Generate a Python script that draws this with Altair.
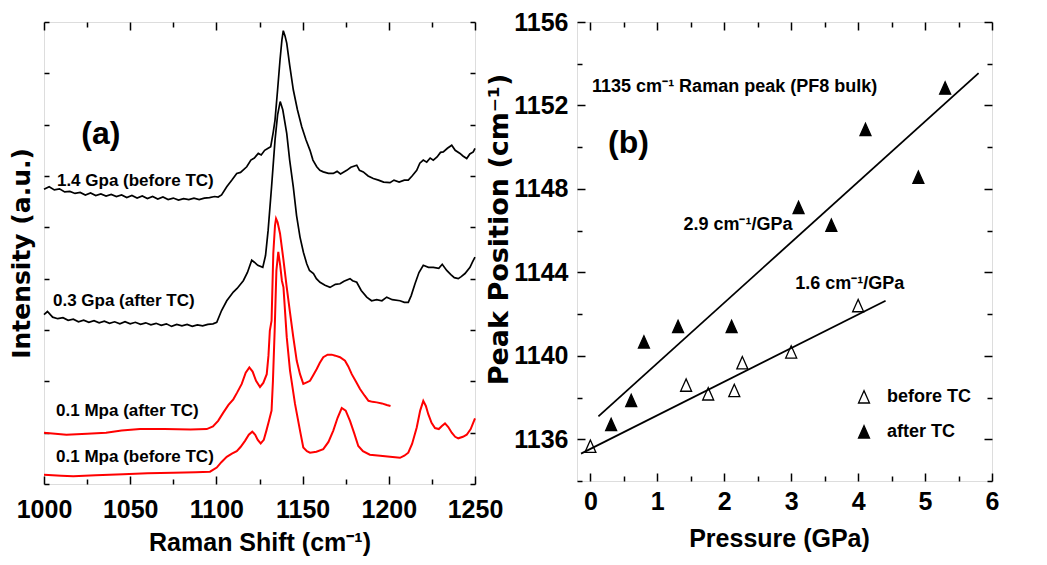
import altair as alt
import pandas as pd

# ---------------- Panel (a): Raman spectra (x = Raman shift, y = intensity a.u.) ----------------
UB = [(1000, 5.74), (1003, 5.79), (1006, 5.73), (1009, 5.75), (1012, 5.69), (1015, 5.70), (1018, 5.66),
      (1021, 5.68), (1024, 5.63), (1027, 5.67), (1030, 5.62), (1033, 5.65), (1036, 5.61), (1039, 5.64),
      (1042, 5.60), (1045, 5.63), (1048, 5.58), (1051, 5.62), (1054, 5.57), (1057, 5.61), (1060, 5.56),
      (1063, 5.60), (1066, 5.55), (1069, 5.59), (1072, 5.54), (1075, 5.57), (1078, 5.53), (1081, 5.56),
      (1084, 5.54), (1087, 5.57), (1090, 5.54), (1093, 5.57), (1096, 5.58), (1099, 5.60), (1101, 5.59),
      (1103, 5.63), (1106, 5.79), (1109, 5.92), (1111.8, 6.05), (1114, 6.07), (1117.6, 6.18), (1120, 6.31),
      (1122, 6.35), (1124.3, 6.44), (1126, 6.41), (1128, 6.50), (1130, 6.54), (1131.5, 6.57), (1133, 6.86),
      (1134, 7.09), (1135.5, 7.68), (1136.9, 8.26), (1138, 8.65), (1138.8, 8.83), (1139.8, 8.73),
      (1140.8, 8.59), (1142.5, 8.16), (1144.6, 7.68), (1147, 7.29), (1149.5, 6.96), (1152, 6.70),
      (1154.3, 6.50), (1156, 6.31), (1158.2, 6.18), (1160, 6.11), (1162, 6.08), (1165, 6.05), (1167.8, 6.05),
      (1170, 6.09), (1172, 6.04), (1175.6, 6.11), (1178, 6.17), (1181.4, 6.21), (1183, 6.11), (1185.2, 6.08),
      (1188, 6.00), (1191, 5.95), (1194, 5.92), (1197, 5.88), (1200.7, 5.87), (1203, 5.92), (1206, 5.88),
      (1209, 5.92), (1211.3, 5.92), (1213.5, 6.00), (1216.2, 6.11), (1218, 6.25), (1220, 6.31), (1222, 6.27),
      (1224, 6.35), (1225.8, 6.31), (1228, 6.37), (1230, 6.46), (1231.6, 6.47), (1234, 6.54), (1236.5, 6.60),
      (1238.5, 6.50), (1241.3, 6.44), (1243, 6.39), (1245.2, 6.34), (1247, 6.43), (1249, 6.47), (1250, 6.54)]

LB = [(1000, 3.30), (1002, 3.36), (1005, 3.25), (1008, 3.22), (1011, 3.24), (1014, 3.19), (1017, 3.21),
      (1020, 3.16), (1023, 3.19), (1026, 3.15), (1029, 3.18), (1032, 3.14), (1035, 3.17), (1038, 3.13),
      (1041, 3.16), (1044, 3.12), (1047, 3.16), (1050, 3.12), (1053, 3.15), (1056, 3.11), (1059, 3.14),
      (1062, 3.10), (1065, 3.13), (1068, 3.09), (1071, 3.12), (1074, 3.07), (1077, 3.11), (1080, 3.08),
      (1083, 3.11), (1086, 3.07), (1089, 3.10), (1092, 3.08), (1095, 3.11), (1098, 3.12), (1100.2, 3.15),
      (1103, 3.38), (1106, 3.57), (1109.8, 3.74), (1112, 3.81), (1115.6, 3.96), (1118, 4.12), (1120.5, 4.36),
      (1122, 4.32), (1124, 4.26), (1126.9, 4.22), (1128.5, 4.45), (1130, 4.94), (1132, 5.79), (1134, 6.70),
      (1135.5, 7.19), (1137, 7.45), (1138.5, 7.29), (1140.8, 6.83), (1142.5, 6.31), (1144.6, 5.79),
      (1146.5, 5.23), (1148.5, 4.81), (1150.5, 4.51), (1152.4, 4.29), (1154, 4.16), (1156.3, 4.10),
      (1158, 4.00), (1160.1, 3.93), (1163, 3.87), (1165.9, 3.83), (1169, 3.89), (1171.7, 3.90), (1174, 3.95),
      (1177.5, 4.00), (1179, 3.96), (1181.4, 3.93), (1184, 3.77), (1187.2, 3.64), (1190, 3.57), (1193, 3.59),
      (1196, 3.57), (1198.8, 3.64), (1202, 3.59), (1206.5, 3.57), (1209, 3.54), (1211.3, 3.54), (1213, 3.67),
      (1215.2, 3.90), (1217.5, 4.12), (1220, 4.26), (1223, 4.22), (1225.8, 4.22), (1229, 4.20), (1231, 4.28),
      (1233.6, 4.16), (1236, 4.08), (1238, 4.02), (1240.3, 4.00), (1242, 4.04), (1244.2, 4.10),
      (1247.1, 4.22), (1248.5, 4.32), (1250, 4.42)]

RA = [(1000, 1.00), (1013, 0.96), (1025, 0.98), (1036, 1.00), (1045, 1.04), (1055.7, 1.07), (1070, 1.07),
      (1085, 1.06), (1094.4, 1.07), (1098, 1.12), (1101, 1.23), (1104, 1.39), (1107, 1.54), (1109.8, 1.65),
      (1112, 1.78), (1114.7, 1.95), (1117, 2.17), (1119.1, 2.27), (1121, 2.19), (1123, 2.01), (1125.3, 1.89),
      (1127.2, 1.97), (1129.2, 2.14), (1130.2, 2.50), (1131, 2.99), (1132, 3.18), (1133, 4.49), (1134, 5.04),
      (1134.6, 5.17), (1135.5, 5.10), (1136.9, 4.88), (1138.8, 4.39), (1140.8, 3.83), (1142.7, 3.34),
      (1144.6, 2.86), (1146.6, 2.40), (1148.5, 2.14), (1150.4, 1.95), (1152.4, 1.98), (1154.3, 2.01),
      (1156, 2.11), (1158.2, 2.24), (1160, 2.36), (1162, 2.47), (1164.5, 2.52), (1166.9, 2.52), (1169, 2.50),
      (1171.7, 2.47), (1174.6, 2.40), (1176.5, 2.29), (1178.5, 2.14), (1181, 1.99), (1183.3, 1.85),
      (1186, 1.72), (1188.2, 1.62), (1190.5, 1.60), (1193, 1.59), (1196, 1.57), (1198.8, 1.54), (1201, 1.52)]

RB = [(1000, 0.18), (1010, 0.16), (1017, 0.15), (1030, 0.17), (1046, 0.19), (1060, 0.21), (1075, 0.22),
      (1088, 0.23), (1096.3, 0.24), (1100.2, 0.32), (1103, 0.43), (1106, 0.53), (1109, 0.59), (1111.8, 0.64),
      (1114, 0.72), (1116.6, 0.84), (1118.8, 0.96), (1120.8, 1.02), (1122.5, 0.96), (1124, 0.86),
      (1125.7, 0.79), (1127.5, 0.86), (1129, 1.04), (1130.5, 1.23), (1132, 1.43), (1132.8, 2.01),
      (1133.8, 2.99), (1134.8, 4.16), (1135.9, 4.52), (1137, 4.26), (1138, 3.96), (1138.9, 3.83),
      (1140.8, 2.86), (1142.7, 2.21), (1145.6, 1.56), (1148.5, 1.04), (1150.4, 0.71), (1152.5, 0.64),
      (1154.3, 0.61), (1158, 0.63), (1162, 0.68), (1165, 0.82), (1167.8, 1.04), (1170.3, 1.29),
      (1172.7, 1.48), (1175, 1.43), (1177.5, 1.23), (1180, 0.98), (1182.3, 0.74), (1185, 0.64), (1189, 0.57),
      (1195, 0.55), (1200.7, 0.53), (1206.5, 0.51), (1209, 0.55), (1211.3, 0.61), (1213.5, 0.78),
      (1216.2, 1.10), (1218.2, 1.43), (1220, 1.62), (1221.5, 1.52), (1222.9, 1.36), (1224.8, 1.19),
      (1226.8, 1.09), (1229, 1.07), (1230.8, 1.13), (1232.6, 1.18), (1234.5, 1.11), (1236.5, 1.00),
      (1238.5, 0.92), (1240.3, 0.89), (1243, 0.92), (1245.2, 0.96), (1247.5, 1.07), (1250, 1.28)]

A_LABELS = ["1.4 Gpa (before TC)", "0.3 Gpa (after TC)", "0.1 Mpa (after TC)", "0.1 Mpa (before TC)"]
A_LABEL_X = [1007.5, 1005.2, 1007.0, 1007.0]
A_LABEL_Y = [5.90, 3.56, 1.43, 0.53]
A_TAG = ["(a)"]
A_TAG_X = [1033]
A_TAG_Y = [6.82]

A_MAJOR = [1000, 1050, 1100, 1150, 1200, 1250]
A_MINOR = [1025, 1075, 1125, 1175, 1225]
A_YTICKS = [0, 1, 2, 3, 4, 5, 6, 7, 8, 9]

# ---------------- Panel (b): peak position vs pressure ----------------
B_BEFORE_P = [0.0, 1.43, 1.76, 2.15, 2.27, 3.0, 4.0]
B_BEFORE_V = [1135.66, 1138.59, 1138.17, 1138.33, 1139.66, 1140.18, 1142.40]
B_AFTER_P = [0.31, 0.61, 0.80, 1.31, 2.11, 3.11, 3.60, 4.11, 4.90, 5.30]
B_AFTER_V = [1136.70, 1137.85, 1140.66, 1141.40, 1141.40, 1147.10, 1146.25, 1150.84, 1148.55, 1152.83]
FIT_AFTER_P = [0.12, 5.8]
FIT_AFTER_V = [1137.10, 1153.55]
FIT_BEFORE_P = [-0.14, 4.41]
FIT_BEFORE_V = [1135.31, 1142.64]

B_TEXTS = ["1135 cm\u207b\u00b9 Raman peak (PF8 bulk)", "2.9 cm\u207b\u00b9/GPa", "1.6 cm\u207b\u00b9/GPa"]
B_TEXT_X = [0.025, 1.39, 3.06]
B_TEXT_Y = [1152.9, 1146.25, 1143.44]
B_TAG = ["(b)"]
B_TAG_X = [0.57]
B_TAG_Y = [1150.2]

B_XMAJOR = [0, 1, 2, 3, 4, 5, 6]
B_XMINOR = [0.5, 1.5, 2.5, 3.5, 4.5, 5.5]
B_YMAJOR = [1136, 1140, 1144, 1148, 1152, 1156]
B_YMINOR = [1134, 1138, 1142, 1146, 1150, 1154]

SERIES = ["before TC", "after TC"]

# ---------------- data frames ----------------
def curve_df(name, pts):
    return pd.DataFrame({"x": [p[0] for p in pts], "y": [p[1] for p in pts], "curve": name})

black_df = pd.concat([curve_df("1.4 GPa", UB), curve_df("0.3 GPa", LB)])
red_df = pd.concat([curve_df("0.1 MPa after", RA), curve_df("0.1 MPa before", RB)])
alab_df = pd.DataFrame({"x": A_LABEL_X, "y": A_LABEL_Y, "t": A_LABELS})
atag_df = pd.DataFrame({"x": A_TAG_X, "y": A_TAG_Y, "t": A_TAG})

pts_df = pd.concat([
    pd.DataFrame({"p": B_BEFORE_P, "v": B_BEFORE_V, "s": SERIES[0]}),
    pd.DataFrame({"p": B_AFTER_P, "v": B_AFTER_V, "s": SERIES[1]}),
])
fit_df = pd.concat([
    pd.DataFrame({"p": FIT_BEFORE_P, "v": FIT_BEFORE_V, "s": SERIES[0]}),
    pd.DataFrame({"p": FIT_AFTER_P, "v": FIT_AFTER_V, "s": SERIES[1]}),
])
btxt_df = pd.DataFrame({"p": B_TEXT_X, "v": B_TEXT_Y, "t": B_TEXTS})
btag_df = pd.DataFrame({"p": B_TAG_X, "v": B_TAG_Y, "t": B_TAG})

# ---------------- helpers ----------------
FONT = "Liberation Sans"
HEAVY = "DejaVu Sans"
WA, HA = 431, 462
WB, HB = 415, 459
GAP = 102


def axis(orient, values, size, **kw):
    opts = dict(orient=orient, values=values, tickSize=size, offset=-size, domain=False, grid=False,
                ticks=True, tickColor="black", tickWidth=1.5, labels=False, title=None)
    opts.update(kw)
    return alt.Axis(**opts)


LABEL_STYLE = dict(labels=True, format="d", labelFont=FONT, labelFontSize=25, labelFontWeight="bold",
                   labelColor="black", labelFlush=False, labelOverlap=False)

# ---------------- panel (a) ----------------
xa = alt.Scale(domain=[1000, 1250], nice=False, zero=False)
ya = alt.Scale(domain=[0, 9], nice=False, zero=False)

black = alt.Chart(black_df).mark_line(color="black", strokeWidth=1.7).encode(
    x=alt.X("x:Q", scale=xa, axis=axis("bottom", A_MAJOR, 8, labelPadding=13, title="Raman Shift (cm\u207b\u00b9)",
                                         titleFont=FONT, titleFontSize=25, titleFontWeight="bold",
                                         titleColor="black", titlePadding=8, **LABEL_STYLE)),
    y=alt.Y("y:Q", scale=ya, axis=axis("left", A_YTICKS, 5, title="Intensity (a.u.)", titleFont=HEAVY,
                                         titleFontSize=25, titleFontWeight="bold", titleColor="black",
                                         titlePadding=9)),
    detail="curve:N",
)
red = alt.Chart(red_df).mark_line(color="#ff0000", strokeWidth=2).encode(
    x=alt.X("x:Q", scale=xa, axis=axis("top", A_MAJOR, 8)),
    y=alt.Y("y:Q", scale=ya, axis=axis("right", A_YTICKS, 5)),
    detail="curve:N",
)
alabels = alt.Chart(alab_df).mark_text(align="left", baseline="middle", font=FONT, fontSize=17,
                                        fontWeight="bold", color="black").encode(
    x=alt.X("x:Q", scale=xa, axis=axis("bottom", A_MINOR, 5)),
    y=alt.Y("y:Q", scale=ya, axis=None),
    text="t:N",
)
atag = alt.Chart(atag_df).mark_text(align="center", baseline="middle", font=FONT, fontSize=32,
                                     fontWeight="bold", color="black").encode(
    x=alt.X("x:Q", scale=xa, axis=axis("top", A_MINOR, 5)),
    y=alt.Y("y:Q", scale=ya, axis=None),
    text="t:N",
)
panel_a = alt.layer(black, red, alabels, atag).resolve_axis(x="independent", y="independent").properties(
    width=WA, height=HA)

# ---------------- panel (b) ----------------
xb = alt.Scale(domain=[-0.2, 6], nice=False, zero=False)
yb = alt.Scale(domain=[1134, 1156], nice=False, zero=False)
TRI = "M0,-1L-0.87,0.95L0.87,0.95Z"

points = alt.Chart(pts_df).mark_point(shape=TRI, filled=True, stroke="black", strokeWidth=1.3, size=160,
                                      opacity=1).encode(
    x=alt.X("p:Q", scale=xb, axis=axis("bottom", B_XMAJOR, 8, labelPadding=8, title="Pressure (GPa)",
                                         titleFont=FONT, titleFontSize=25, titleFontWeight="bold",
                                         titleColor="black", titlePadding=12, titleX=202, **LABEL_STYLE)),
    y=alt.Y("v:Q", scale=yb, axis=axis("left", B_YMAJOR, 8, labelPadding=9, title="Peak Position (cm\u207b\u00b9)",
                                         titleFont=HEAVY, titleFontSize=27, titleFontWeight="bold",
                                         titleColor="black", titlePadding=0, titleY=207, **LABEL_STYLE)),
    fill=alt.Fill("s:N", scale=alt.Scale(domain=SERIES, range=["white", "black"]),
                  legend=alt.Legend(orient="none", legendX=WA + GAP + 278, legendY=366, title=None,
                                    labelFont=FONT, labelFontSize=18, labelFontWeight="bold",
                                    labelColor="black", labelOffset=14, rowPadding=17, symbolSize=160,
                                    symbolType=TRI, symbolStrokeColor="black", symbolStrokeWidth=1.3,
                                    symbolOpacity=1)),
)
fits = alt.Chart(fit_df).mark_line(color="black", strokeWidth=1.8).encode(
    x=alt.X("p:Q", scale=xb, axis=axis("top", B_XMAJOR, 8)),
    y=alt.Y("v:Q", scale=yb, axis=axis("right", B_YMAJOR, 8)),
    detail="s:N",
)
btexts = alt.Chart(btxt_df).mark_text(align="left", baseline="middle", font=FONT, fontSize=18,
                                       fontWeight="bold", color="black").encode(
    x=alt.X("p:Q", scale=xb, axis=axis("bottom", B_XMINOR, 5)),
    y=alt.Y("v:Q", scale=yb, axis=axis("left", B_YMINOR, 5)),
    text="t:N",
)
btag = alt.Chart(btag_df).mark_text(align="center", baseline="middle", font=FONT, fontSize=32,
                                     fontWeight="bold", color="black").encode(
    x=alt.X("p:Q", scale=xb, axis=axis("top", B_XMINOR, 5)),
    y=alt.Y("v:Q", scale=yb, axis=axis("right", B_YMINOR, 5)),
    text="t:N",
)
panel_b = alt.layer(points, fits, btexts, btag).resolve_axis(x="independent", y="independent").properties(
    width=WB, height=HB)

chart = alt.hconcat(panel_a, panel_b, spacing=GAP, bounds="flush").properties(
    padding={"left": 0, "top": 1, "right": 0, "bottom": 0}
).configure_view(stroke="black", strokeWidth=2).configure(background="white")

chart.save("out.html", embed_options={"renderer": "svg", "actions": False})
